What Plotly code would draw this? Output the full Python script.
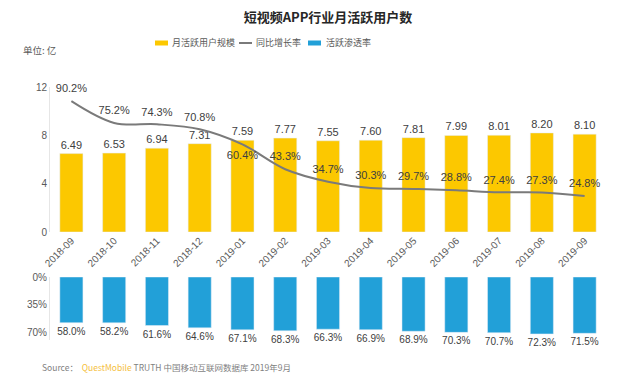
import plotly.graph_objects as go

months = ["2018-09", "2018-10", "2018-11", "2018-12", "2019-01", "2019-02", "2019-03",
          "2019-04", "2019-05", "2019-06", "2019-07", "2019-08", "2019-09"]
mau = [6.49, 6.53, 6.94, 7.31, 7.59, 7.77, 7.55, 7.60, 7.81, 7.99, 8.01, 8.20, 8.10]
yoy = [90.2, 75.2, 74.3, 70.8, 60.4, 43.3, 34.7, 30.3, 29.7, 28.8, 27.4, 27.3, 24.8]
pen = [58.0, 58.2, 61.6, 64.6, 67.1, 68.3, 66.3, 66.9, 68.9, 70.3, 70.7, 72.3, 71.5]

FONT = "Liberation Sans, Noto Sans CJK SC, sans-serif"
CJK = "Noto Sans CJK SC, sans-serif"
YELLOW = "#fcc800"
BLUE = "#22a0d8"
GRAY = "#7a7a7a"
TXT = "#404040"

L, R, T, B = 50, 34, 87, 45
W, H = 640, 385
PW, PH = W - L - R, H - T - B


def px(x):
    return (x - L) / PW


def py(y):
    return (H - B - y) / PH


yoy_pos = ["top center"] * len(yoy)
yoy_pos[4] = "bottom center"

fig = go.Figure()
fig.add_trace(go.Bar(
    x=months, y=mau, name="月活跃用户规模", marker_color=YELLOW,
    text=[f"{v:.2f}" for v in mau], textposition="outside", constraintext="none",
    textfont=dict(size=11, color=TXT, family=FONT), cliponaxis=False,
    xaxis="x", yaxis="y"))
fig.add_trace(go.Scatter(
    x=months, y=yoy, name="同比增长率", mode="lines+markers+text",
    line=dict(color=GRAY, width=2, shape="spline", smoothing=1.0),
    marker=dict(size=8, color="rgba(0,0,0,0)"),
    text=[f"{v:.1f}%" for v in yoy], textposition=yoy_pos,
    textfont=dict(size=11, color=TXT, family=FONT), cliponaxis=False,
    xaxis="x", yaxis="y2"))
fig.add_trace(go.Bar(
    x=months, y=pen, name="活跃渗透率", marker_color=BLUE,
    text=[f"{v:.1f}%" for v in pen], textposition="outside", constraintext="none",
    textfont=dict(size=10, color=TXT, family=FONT), cliponaxis=False,
    xaxis="x2", yaxis="y3"))

top_dom = [py(232), 1.0]
bot_dom = [0.0, py(277)]
xr = [-0.5, len(months) - 0.5]

fig.update_layout(
    width=W, height=H,
    margin=dict(l=L, r=R, t=T, b=B, autoexpand=False),
    paper_bgcolor="white", plot_bgcolor="white",
    bargap=0.46,
    showlegend=False,
    xaxis=dict(type="category", domain=[0, 1], anchor="y", range=xr, tickangle=-45,
               showgrid=False, tickfont=dict(size=10, color="#595959", family=FONT),
               showline=False, ticks=""),
    yaxis=dict(domain=top_dom, range=[0, 12], tickvals=[0, 4, 8, 12], showgrid=False,
               showline=True, linecolor="#e6e6e6", linewidth=1,
               tickfont=dict(size=10, color="#595959", family=FONT), ticks="",
               zeroline=False),
    yaxis2=dict(domain=top_dom, range=[0, 100], overlaying="y", side="right",
                visible=False, anchor="x"),
    xaxis2=dict(type="category", domain=[0, 1], anchor="y3", range=xr,
                showticklabels=False, showgrid=False, showline=False, ticks=""),
    yaxis3=dict(domain=bot_dom, range=[80, 0], tickvals=[0, 35, 70],
                ticktext=["0%", "35%", "70%"], showgrid=False,
                showline=True, linecolor="#e6e6e6", linewidth=1,
                tickfont=dict(size=10, color="#595959", family=FONT), ticks="",
                zeroline=False, anchor="x2"),
    title=dict(text="<b>短视频APP行业月活跃用户数</b>", x=0.5, xref="paper", xanchor="center",
               y=1 - 17 / H, yref="container", yanchor="middle",
               font=dict(size=13, color="#262626", family=CJK)),
)

# manual legend
legend_items = [
    ("rect", YELLOW, 155, 168, "月活跃用户规模", 170),
    ("line", GRAY, 239, 252, "同比增长率", 254),
    ("rect", BLUE, 308, 321, "活跃渗透率", 324),
]
LY = 43
for kind, col, x0, x1, label, tx in legend_items:
    if kind == "rect":
        fig.add_shape(type="rect", xref="paper", yref="paper",
                      x0=px(x0), x1=px(x1), y0=py(LY + 2.5), y1=py(LY - 2.5),
                      fillcolor=col, line=dict(width=0))
    else:
        fig.add_shape(type="line", xref="paper", yref="paper",
                      x0=px(x0), x1=px(x1), y0=py(LY), y1=py(LY),
                      line=dict(color=col, width=2))
    fig.add_annotation(text=label, xref="paper", yref="paper", x=px(tx), y=py(LY),
                       xanchor="left", yanchor="middle", showarrow=False,
                       font=dict(size=9, color="#595959", family=CJK))

fig.add_annotation(text="单位: 亿", xref="paper", yref="paper",
                   x=px(21), y=py(50), xanchor="left", yanchor="middle",
                   showarrow=False, font=dict(size=9.5, color="#595959", family=CJK))
fig.add_annotation(
    text="Source：  <span style='color:#f5c040'>QuestMobile</span> TRUTH 中国移动互联网数据库 2019年9月",
    xref="paper", yref="paper", x=px(40), y=py(367),
    xanchor="left", yanchor="middle", showarrow=False,
    font=dict(size=8.5, color="#7f7f7f", family=CJK))

fig.write_html("out.html", config={"displayModeBar": False},
               post_script="document.body.style.margin='0';document.body.style.overflow='hidden';")
